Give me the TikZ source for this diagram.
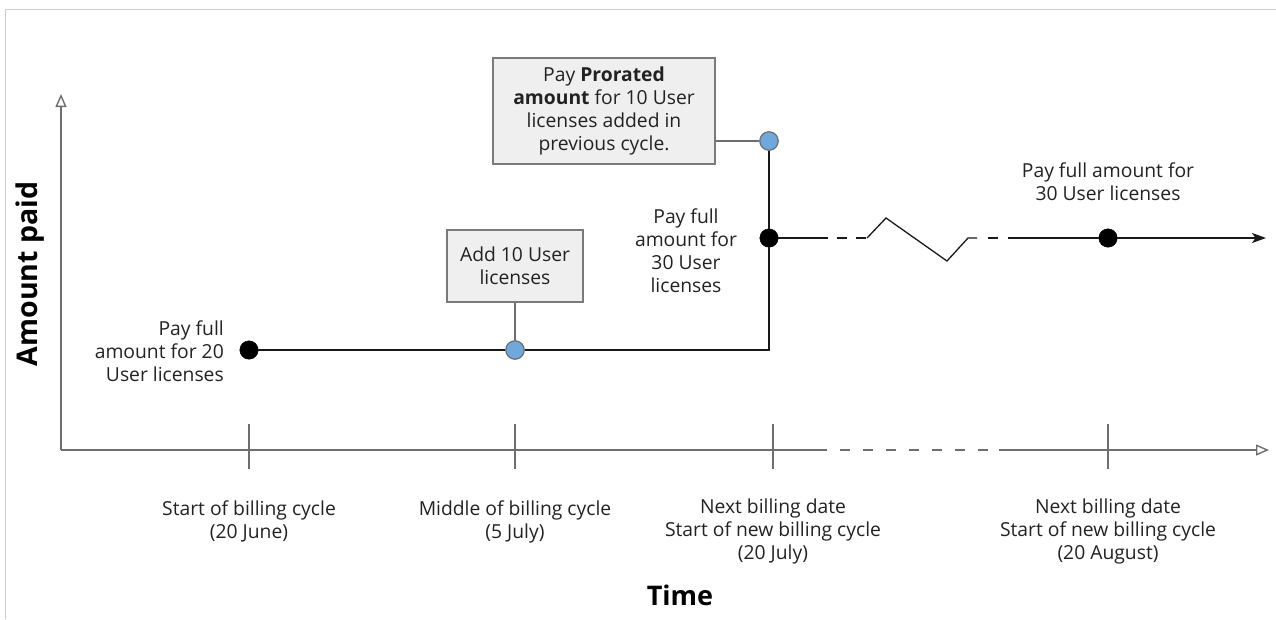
\documentclass[tikz,border=0pt]{standalone}
\usepackage{fontspec}
\setmainfont{Open Sans}
\usetikzlibrary{arrows.meta}
\definecolor{axisgray}{HTML}{6E6E6E}
\definecolor{txt}{HTML}{222222}
\definecolor{boxfill}{HTML}{EFEFEF}
\definecolor{boxdraw}{HTML}{7A7A7A}
\definecolor{bluedot}{HTML}{6FA8DC}
\definecolor{frame}{HTML}{CCCCCC}
\begin{document}
\begin{tikzpicture}[x=1pt,y=-1pt,
  axisline/.style={draw=axisgray,line width=1.5pt},
  tickline/.style={draw=axisgray,line width=1.5pt},
  pline/.style={draw=black!90,line width=1.3pt},
  blackdot/.style={circle,fill=black,draw=black,inner sep=0pt,minimum size=18.5pt},
  bluedotst/.style={circle,fill=bluedot,draw=axisgray,line width=1.2pt,inner sep=0pt,minimum size=18.5pt},
  infobox/.style={draw=boxdraw,fill=boxfill,line width=1.3pt,align=center,inner sep=0pt,text=txt,font=\fontsize{19.3}{23}\selectfont},
  lbl/.style={align=center,text=txt,font=\fontsize{19.3}{23}\selectfont,inner sep=0pt},
  ticklbl/.style={lbl,yshift=-2pt},
  openarrow/.style={-{Triangle[open,length=13pt,width=11pt,line width=1.4pt]}}
]
\useasboundingbox (0,0) rectangle (1276,619);
% frame lines
\draw[frame,line width=1pt] (5,619) -- (5,9) -- (1276,9);

% axes
\coordinate (orig) at (61,450);
\coordinate (ytop) at (61,94);
\coordinate (xs1) at (827,450);
\coordinate (xs2) at (999,450);
\coordinate (xend) at (1269,450);
\draw[axisline,openarrow] (orig) -- (ytop);
\draw[axisline] (orig) -- (xs1);
\draw[axisline,dash pattern=on 10pt off 13pt,dash phase=-13pt] (xs1) -- (xs2);
\draw[axisline,openarrow] (xs2) -- (xend);

% ticks
\foreach \n/\x in {t1/249,t2/515,t3/773,t4/1108}{
  \coordinate (\n a) at (\x,424);
  \coordinate (\n b) at (\x,469);
  \draw[tickline] (\n a) -- (\n b);
}

% tick labels
\node[ticklbl] (l1) at (249,519.5) {Start of billing cycle\\(20 June)};
\node[ticklbl] (l2) at (515,519.5) {Middle of billing cycle\\(5 July)};
\node[ticklbl] (l3) at (773,529) {Next billing date\\Start of new billing cycle\\(20 July)};
\node[ticklbl] (l4) at (1108,529) {Next billing date\\Start of new billing cycle\\(20 August)};

% axis titles
\node[text=black,font=\fontsize{27}{30}\selectfont\bfseries] (time) at (680,595) {Time};
\node[text=black,font=\fontsize{28.5}{32}\selectfont\bfseries,rotate=90] (amt) at (30,274) {Amount paid};

% payment line
\coordinate (c1) at (769,350);
\coordinate (u1) at (827,238);
\coordinate (z0) at (867,238);
\coordinate (z1) at (886,218);
\coordinate (z2) at (947,261);
\coordinate (z3) at (968,238);
\coordinate (z4) at (977,238);
\coordinate (u2) at (1008,238);
\coordinate (aend) at (1266,238);

\node[blackdot] (d1) at (249,350) {};
\node[bluedotst] (b1) at (515,350) {};
\node[blackdot] (d3) at (769,238) {};
\node[bluedotst] (b2) at (769,141) {};
\node[blackdot] (d4) at (1108,238) {};

\draw[pline] (d1) -- (b1);
\draw[pline] (b1) -- (c1) -- (d3);
\draw[pline] (d3) -- (b2);
\draw[pline] (d3) -- (u1);
\draw[pline,dash pattern=on 10pt off 9pt,dash phase=-10pt] (u1) -- (z0);
\draw[pline,line join=miter] (z0) -- (z1) -- (z2) -- (z3) -- (z4);
\draw[pline,dash pattern=on 10pt off 11pt,dash phase=-11pt] (z4) -- (u2);
\draw[pline] (u2) -- (d4);
\draw[pline,-{Stealth[length=14pt,width=10pt,inset=3.5pt]}] (d4) -- (aend);

% boxes
\node[infobox,minimum width=136pt,minimum height=72pt] (box1) at (515,266) {Add 10 User\\licenses};
\node[infobox,minimum width=222pt,minimum height=106pt] (box2) at (604,111) {Pay \textbf{Prorated}\\\textbf{amount} for 10 User\\licenses added in\\previous cycle.};
\draw[draw=axisgray,line width=1.3pt] (box1.south) -- (b1);
\draw[draw=axisgray,line width=1.3pt] (box2.east |- b2) -- (b2);

% payment labels
\node[lbl,align=right,anchor=east] (p1) at (224,351) {Pay full\\amount for 20\\User licenses};
\node[lbl] (p3) at (686,250.5) {Pay full\\amount for\\30 User\\licenses};
\node[lbl] (p4) at (1108,181.5) {Pay full amount for\\30 User licenses};
\end{tikzpicture}
\end{document}
